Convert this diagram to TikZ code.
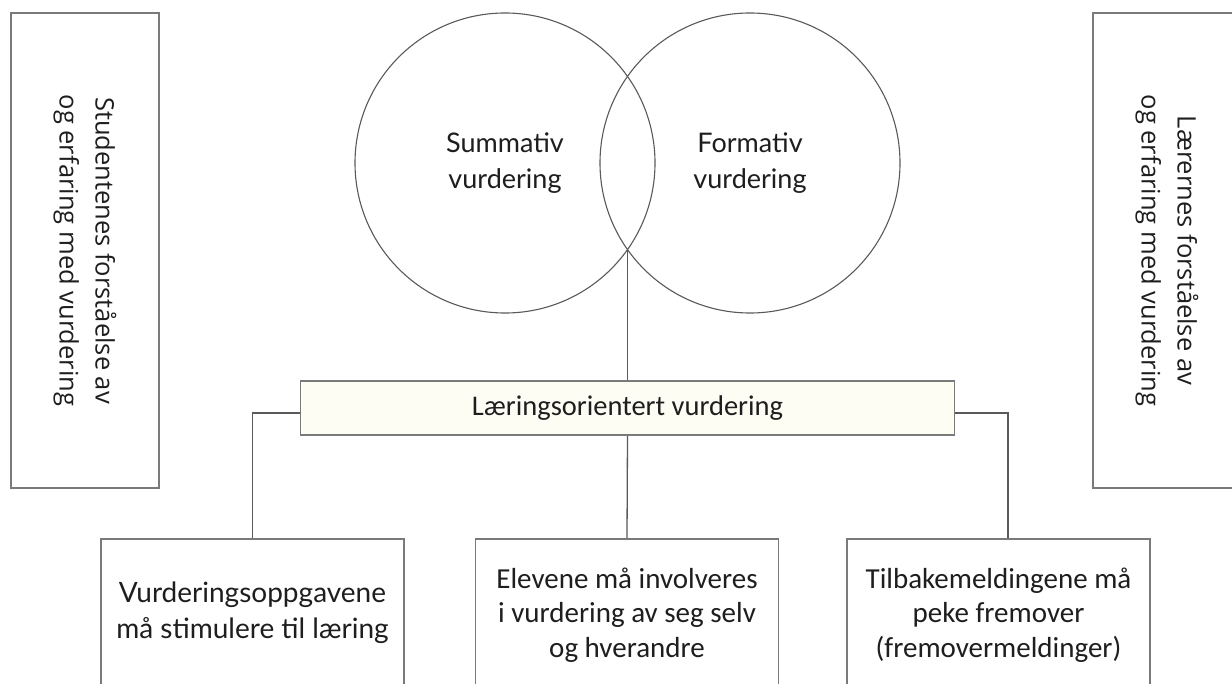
\documentclass[tikz,border=0pt]{standalone}
\usepackage{fontspec}
\setmainfont{Lato}
\newfontfamily\latof{Lato}
\newfontfamily\carlf{Carlito}
\newfontfamily\opensf{Open Sans}
\definecolor{boxgray}{HTML}{7A7A7A}
\definecolor{linegray}{HTML}{5A5A5A}
\definecolor{txt}{HTML}{1E1E1E}
\definecolor{cream}{HTML}{FDFDF4}
\begin{document}
\begin{tikzpicture}[x=1pt,y=-1pt,
  frame/.style={draw=boxgray, line width=1.6pt},
  conn/.style={draw=linegray, line width=1.3pt},
  vtext/.style={frame, rotate=-90, minimum width=475, minimum height=148, align=center, text=txt,
    font={\opensf\fontsize{25.5}{36}\selectfont}},
  ring/.style={draw=linegray, line width=1.1pt, circle, minimum size=300, inner sep=0pt, align=center, text=txt,
    font={\latof\fontsize{27}{36}\selectfont}},
  bbox/.style={frame, minimum width=303, minimum height=220, anchor=north},
  btext/.style={align=center, text=txt, inner sep=0pt},
  latotext/.style={btext, font={\latof\fontsize{28}{36}\selectfont}},
  carltext/.style={btext, font={\carlf\fontsize{29}{34.5}\selectfont}}
]
\useasboundingbox (0,0) rectangle (1232,684);
\clip (0,0) rectangle (1232,684);
\fill[white] (0,0) rectangle (1232,684);

% side boxes
\node[vtext] (stud) at (85,250.5) {Studentenes forståelse av\\og erfaring med vurdering};
\node[vtext] (laer) at (1167,250.5) {Lærernes forståelse av\\og erfaring med vurdering};

% circles
\node[ring] (sum) at (505,163) {Summativ\\vurdering};
\node[ring] (form) at (750,163) {Formativ\\vurdering};
\coordinate (isect) at (627.5,249.6);

% central box
\node[frame, fill=cream, minimum width=654, minimum height=54, inner sep=0pt, text=txt,
  font={\carlf\fontsize{28.5}{34}\selectfont}] (lo) at (627.5,408) {Læringsorientert vurdering};

% bottom boxes
\node[bbox] (b1) at (252.5,538) {};
\node[bbox] (b2) at (627,538) {};
\node[bbox] (b3) at (998.5,538) {};
\node[latotext] (t1) at (252.5,613) {Vurderingsoppgavene\\må stimulere til læring};
\node[carltext] (t2) at (627,615) {Elevene må involveres\\i vurdering av seg selv\\og hverandre};
\node[carltext] (t3) at (998.5,615) {Tilbakemeldingene må\\peke fremover\\(fremovermeldinger)};
\coordinate (b3in) at ([xshift=9.5pt]b3.north);

% connectors
\draw[conn] (isect) -- (isect |- lo.north);
\draw[conn] (lo.south) -- (b2.north);
\draw[conn] ([yshift=-5pt]lo.west) -| (b1.north);
\draw[conn] ([yshift=-5pt]lo.east) -| (b3in);
\end{tikzpicture}
\end{document}
